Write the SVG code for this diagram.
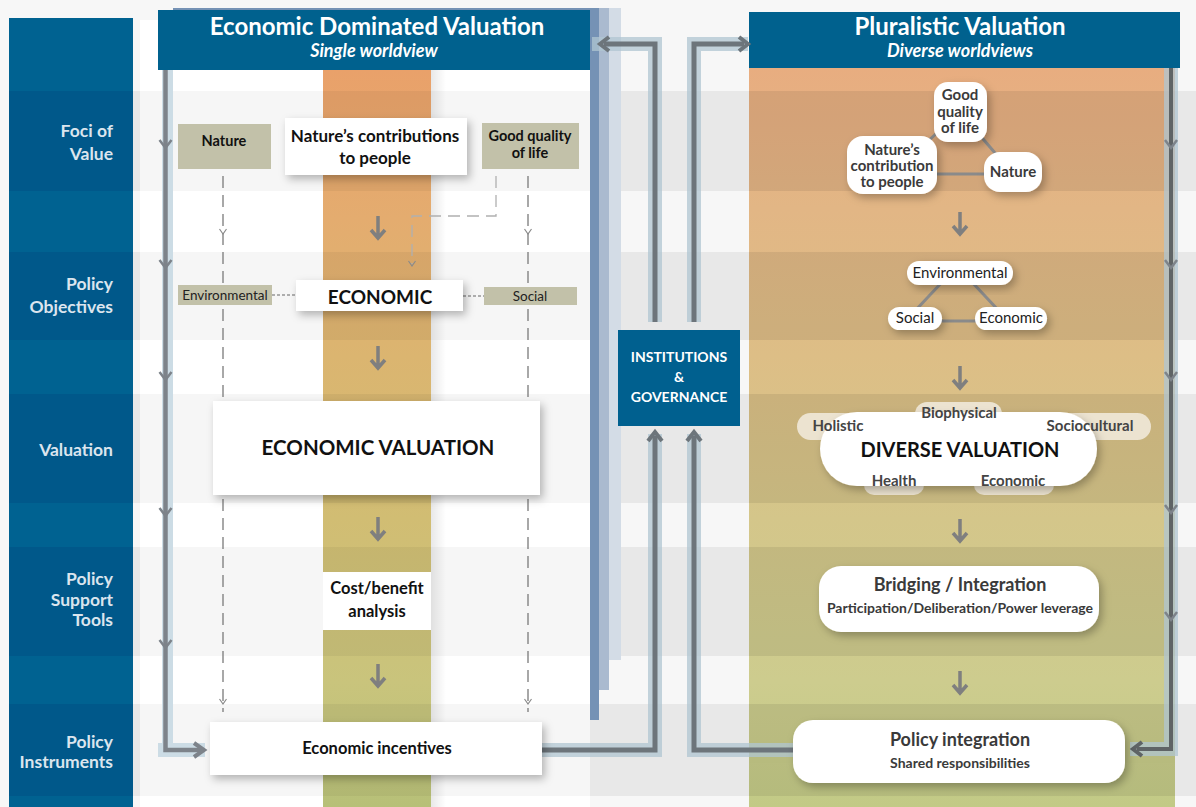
<svg xmlns="http://www.w3.org/2000/svg" xmlns:xlink="http://www.w3.org/1999/xlink" width="1196" height="807" viewBox="0 0 1196 807">
<defs>
<linearGradient id="gOrange" gradientUnits="userSpaceOnUse" x1="0" y1="70" x2="0" y2="807">
<stop offset="0" stop-color="#e9a16a"/>
<stop offset="0.2" stop-color="#e4ac6f"/>
<stop offset="0.39" stop-color="#dbb570"/>
<stop offset="0.61" stop-color="#d1bd73"/>
<stop offset="0.83" stop-color="#c9c47c"/>
<stop offset="1" stop-color="#b7c078"/>
</linearGradient>
<linearGradient id="gRight" gradientUnits="userSpaceOnUse" x1="0" y1="68" x2="0" y2="807">
<stop offset="0" stop-color="#e8ad80"/>
<stop offset="0.19" stop-color="#e2b685"/>
<stop offset="0.39" stop-color="#ddbe86"/>
<stop offset="0.61" stop-color="#d4c68a"/>
<stop offset="0.83" stop-color="#cdcc8e"/>
<stop offset="1" stop-color="#c2ca86"/>
</linearGradient>
<linearGradient id="gShade" x1="0" y1="0" x2="1" y2="0">
<stop offset="0" stop-color="#000" stop-opacity="0.09"/>
<stop offset="1" stop-color="#000" stop-opacity="0"/>
</linearGradient>
<filter id="sh" x="-20%" y="-30%" width="150%" height="170%">
<feDropShadow dx="3" dy="4" stdDeviation="4" flood-color="#000" flood-opacity="0.28"/>
</filter>
<path id="da" d="M0,-12 V10 M-7,2 L0,10 L7,2"/>
<path id="chev" d="M-6,-5 L0,3 L6,-5"/>
<path id="sarr" d="M-3.5,-5 L0,0 L3.5,-5"/>
</defs>
<style>
text{font-family:Lato,"Open Sans","Noto Sans",sans-serif;}
.lab{font-size:17.5px;font-weight:700;fill:#dbe5ee;text-anchor:end;}
.hd1{font-size:24px;font-weight:700;fill:#fff;text-anchor:middle;}
.hd2{font-size:18px;font-weight:700;font-style:italic;fill:#fff;text-anchor:middle;}
.b{font-weight:700;fill:#111;text-anchor:middle;}
.r{font-weight:400;fill:#222;text-anchor:middle;}
.dg{font-weight:700;fill:#3a3a3a;text-anchor:middle;}
.w{font-weight:700;fill:#fff;text-anchor:middle;}
.tan{fill:#c2c1a9;}
.wbox{fill:#fff;filter:url(#sh);}
.pill{fill:#fff;filter:url(#sh);}
.bpill{fill:#ece3d0;}
.da{fill:none;stroke:#7f7f7f;stroke-width:3.5;}
.dash{fill:none;stroke:#7a7a7a;stroke-width:1.3;stroke-dasharray:12 7;}
.dashl{fill:none;stroke:#b0b0b0;stroke-width:1.3;stroke-dasharray:12 7;}
.sarr{fill:none;stroke:#8a8a8a;stroke-width:1.2;}
.dot{fill:none;stroke:#666;stroke-width:1;stroke-dasharray:3 2;}
.halo{fill:none;stroke:#b0c6d2;stroke-width:14;opacity:0.75;}
.ln{fill:none;stroke:#6d757b;stroke-width:5;}
.ah{fill:none;stroke:#6d757b;stroke-width:4;}
.chev{fill:none;stroke:#7d838a;stroke-width:2.5;}
.tri{fill:none;stroke:#8a8a8a;stroke-width:3;}
</style>

<!-- background -->
<rect x="0" y="0" width="1196" height="807" fill="#f7f7f7"/>
<g fill="#e8e8e8">
<rect x="133" y="91" width="1063" height="100"/>
<rect x="133" y="252" width="1063" height="88"/>
<rect x="133" y="394" width="1063" height="109"/>
<rect x="133" y="547" width="1063" height="109"/>
<rect x="133" y="704" width="1063" height="92"/>
</g>

<!-- left label column -->
<g id="label-column">
<rect x="9" y="18" width="124" height="789" fill="#006291"/>
<g fill="#00588a">
<rect x="9" y="91" width="124" height="100"/>
<rect x="9" y="252" width="124" height="88"/>
<rect x="9" y="394" width="124" height="109"/>
<rect x="9" y="547" width="124" height="109"/>
<rect x="9" y="704" width="124" height="92"/>
</g>
<text class="lab" x="113" y="137">Foci of</text>
<text class="lab" x="113" y="160">Value</text>
<text class="lab" x="113" y="290">Policy</text>
<text class="lab" x="113" y="313">Objectives</text>
<text class="lab" x="113" y="456">Valuation</text>
<text class="lab" x="113" y="585">Policy</text>
<text class="lab" x="113" y="606">Support</text>
<text class="lab" x="113" y="626">Tools</text>
<text class="lab" x="113" y="748">Policy</text>
<text class="lab" x="113" y="768">Instruments</text>
</g>

<!-- stacked panels behind left panel -->
<g id="stack">
<rect x="173" y="8" width="448" height="652" fill="#d3dce6"/>
<rect x="173" y="8" width="436" height="682" fill="#aabacf"/>
<rect x="173" y="8" width="426" height="712" fill="#7592b5"/>
</g>

<!-- left panel -->
<g id="left-panel">
<rect x="140" y="20" width="450" height="787" fill="#ffffff"/>
<g fill="#f6f6f6">
<rect x="140" y="91" width="450" height="100"/>
<rect x="140" y="252" width="450" height="88"/>
<rect x="140" y="394" width="450" height="109"/>
<rect x="140" y="547" width="450" height="109"/>
<rect x="140" y="704" width="450" height="92"/>
</g>
<rect x="323" y="70" width="108" height="737" fill="url(#gOrange)"/>
<g fill="#000" opacity="0.045">
<rect x="323" y="91" width="108" height="100"/>
<rect x="323" y="252" width="108" height="88"/>
<rect x="323" y="394" width="108" height="109"/>
<rect x="323" y="547" width="108" height="109"/>
<rect x="323" y="704" width="108" height="92"/>
</g>
<rect x="431" y="70" width="15" height="737" fill="url(#gShade)"/>
</g>
<g id="left-header">
<rect x="158" y="10" width="432" height="60" fill="#00618e"/>
<text class="hd1" x="377" y="35">Economic Dominated Valuation</text>
<text class="hd2" x="374" y="57">Single worldview</text>
</g>

<!-- right panel -->
<g id="right-panel">
<rect x="749" y="68" width="426" height="739" fill="url(#gRight)"/>
<g fill="#000" opacity="0.07">
<rect x="749" y="91" width="426" height="100"/>
<rect x="749" y="252" width="426" height="88"/>
<rect x="749" y="394" width="426" height="109"/>
<rect x="749" y="547" width="426" height="109"/>
<rect x="749" y="704" width="426" height="92"/>
</g>
</g>
<g id="right-header">
<rect x="749" y="12" width="431" height="56" fill="#00618e"/>
<text class="hd1" x="960" y="35">Pluralistic Valuation</text>
<text class="hd2" x="960" y="57">Diverse worldviews</text>
</g>

<!-- connectors -->
<g id="connectors">
<!-- left feedback loop -->
<rect x="162" y="70" width="11" height="687" fill="#ccdce5"/>
<rect x="158" y="743" width="47" height="14" fill="#ccdce5"/>
<path d="M165.5,70 V750 H203" fill="none" stroke="#7d838a" stroke-width="4.5"/>
<path d="M194,743 L204,750 L194,757" fill="none" stroke="#7d838a" stroke-width="4"/>
<g class="chev">
<use xlink:href="#chev" x="165.5" y="145"/>
<use xlink:href="#chev" x="165.5" y="265"/>
<use xlink:href="#chev" x="165.5" y="377"/>
<use xlink:href="#chev" x="165.5" y="513"/>
<use xlink:href="#chev" x="165.5" y="645"/>
</g>
<!-- to/from institutions -->
<path class="halo" d="M542,750 H655 V434 M655,322 V44 H592"/>
<path class="halo" d="M793,750 H694 V434 M694,322 V44 H748"/>
<path class="ln" d="M542,750 H655 V436 M655,322 V44 H604"/>
<path class="ln" d="M793,750 H694 V436 M694,322 V44 H744"/>
<path class="ah" d="M648,441 L655,432 L662,441"/>
<path class="ah" d="M687,441 L694,432 L701,441"/>
<path class="ah" d="M609,37 L600,44 L609,51"/>
<path class="ah" d="M739,37 L748,44 L739,51"/>
<!-- right feedback loop -->
<path class="halo" d="M1171,68 V749 H1130"/>
<path d="M1171,68 V749 H1137" fill="none" stroke="#5f6466" stroke-width="4"/>
<path d="M1142,742 L1133,749 L1142,756" fill="none" stroke="#5f6466" stroke-width="4"/>
<g class="chev">
<use xlink:href="#chev" x="1171" y="145"/>
<use xlink:href="#chev" x="1171" y="265"/>
<use xlink:href="#chev" x="1171" y="377"/>
<use xlink:href="#chev" x="1171" y="510"/>
<use xlink:href="#chev" x="1171" y="617"/>
</g>
<!-- dashed links in economic panel -->
<path class="dash" d="M223,176 V712"/>
<path class="dash" d="M528,176 V712"/>
<path class="dashl" d="M496,176 V216 H412 V264"/>
<g class="sarr">
<use xlink:href="#sarr" x="223" y="234"/>
<use xlink:href="#sarr" x="223" y="704"/>
<use xlink:href="#sarr" x="528" y="234"/>
<use xlink:href="#sarr" x="528" y="704"/>
<use xlink:href="#sarr" x="412" y="266"/>
</g>
<path class="dot" d="M272,295 H296 M463,296 H484"/>
<!-- flow arrows -->
<g class="da">
<use xlink:href="#da" x="378" y="228"/>
<use xlink:href="#da" x="378" y="358"/>
<use xlink:href="#da" x="378" y="529"/>
<use xlink:href="#da" x="378" y="676"/>
<use xlink:href="#da" x="960" y="224"/>
<use xlink:href="#da" x="960" y="378"/>
<use xlink:href="#da" x="960" y="531"/>
<use xlink:href="#da" x="960" y="683"/>
</g>
<!-- triangles -->
<path class="tri" d="M960,112 L892,174 L1013,174 Z"/>
<path class="tri" d="M944,280 L914,312 M970,280 L1000,312 M930,321 H990"/>
</g>

<!-- economic panel nodes -->
<g id="eco-nature">
<rect class="tan" x="178" y="124" width="93" height="45"/>
<text class="b" x="224" y="146" font-size="14.5">Nature</text>
</g>
<g id="eco-ncp">
<rect class="wbox" x="285" y="118" width="182" height="57"/>
<text class="b" x="375" y="142" font-size="17">Nature’s contributions</text>
<text class="b" x="375" y="164" font-size="17">to people</text>
</g>
<g id="eco-gqol">
<rect class="tan" x="482" y="123" width="97" height="46"/>
<text class="b" x="530" y="141" font-size="14.5">Good quality</text>
<text class="b" x="530" y="158" font-size="14.5">of life</text>
</g>
<g id="eco-environmental">
<rect class="tan" x="178" y="285" width="94" height="20"/>
<text class="r" x="225" y="300" font-size="13.5">Environmental</text>
</g>
<g id="eco-economic">
<rect class="wbox" x="296" y="280" width="167" height="31"/>
<text class="b" x="380" y="304" font-size="19">ECONOMIC</text>
</g>
<g id="eco-social">
<rect class="tan" x="484" y="287" width="93" height="18"/>
<text class="r" x="530" y="301" font-size="13.5">Social</text>
</g>
<g id="eco-valuation">
<rect class="wbox" x="213" y="401" width="327" height="94"/>
<text class="b" x="378" y="455" font-size="20.5">ECONOMIC VALUATION</text>
</g>
<g id="eco-cba">
<rect x="323" y="572" width="108" height="58" fill="#fff"/>
<text class="b" x="377" y="594" font-size="16.5">Cost/benefit</text>
<text class="b" x="377" y="617" font-size="16.5">analysis</text>
</g>
<g id="eco-incentives">
<rect class="wbox" x="210" y="722" width="332" height="53"/>
<text class="b" x="377" y="754" font-size="16.5">Economic incentives</text>
</g>

<!-- institutions -->
<g id="institutions">
<rect x="618" y="330" width="122" height="96" fill="#00608f"/>
<text class="w" x="679" y="362" font-size="14">INSTITUTIONS</text>
<text class="w" x="679" y="382" font-size="14">&amp;</text>
<text class="w" x="679" y="402" font-size="14">GOVERNANCE</text>
</g>

<!-- pluralistic panel nodes -->
<g id="plu-gqol">
<rect class="pill" x="934" y="82" width="53" height="60" rx="14"/>
<text class="dg" x="960" y="100" font-size="15">Good</text>
<text class="dg" x="960" y="117" font-size="15">quality</text>
<text class="dg" x="960" y="133" font-size="15">of life</text>
</g>
<g id="plu-ncp">
<rect class="pill" x="847" y="136" width="90" height="58" rx="16"/>
<text class="dg" x="892" y="155" font-size="15">Nature’s</text>
<text class="dg" x="892" y="171" font-size="15">contribution</text>
<text class="dg" x="892" y="187" font-size="15">to people</text>
</g>
<g id="plu-nature">
<rect class="pill" x="984" y="152" width="58" height="40" rx="16"/>
<text class="dg" x="1013" y="177" font-size="15">Nature</text>
</g>
<g id="plu-environmental">
<rect class="pill" x="907" y="261" width="106" height="24" rx="12"/>
<text class="r" x="960" y="278" font-size="15">Environmental</text>
</g>
<g id="plu-social">
<rect class="pill" x="888" y="307" width="54" height="23" rx="11.5"/>
<text class="r" x="915" y="323" font-size="15">Social</text>
</g>
<g id="plu-economic">
<rect class="pill" x="975" y="307" width="72" height="23" rx="11.5"/>
<text class="r" x="1011" y="323" font-size="15">Economic</text>
</g>
<g id="plu-diverse">
<rect class="bpill" x="797" y="413" width="90" height="27" rx="13.5"/>
<rect class="bpill" x="1030" y="413" width="121" height="27" rx="13.5"/>
<rect class="bpill" x="915" y="402" width="87" height="24" rx="12"/>
<rect class="bpill" x="864" y="470" width="60" height="25" rx="10"/>
<rect class="bpill" x="974" y="470" width="80" height="25" rx="10"/>
<rect class="pill" x="820" y="412" width="277" height="74" rx="37"/>
<text class="dg" x="838" y="431" font-size="15" style="fill:#444">Holistic</text>
<text class="dg" x="959" y="418" font-size="15" style="fill:#444">Biophysical</text>
<text class="dg" x="1090" y="431" font-size="15" style="fill:#444">Sociocultural</text>
<text class="dg" x="894" y="486" font-size="15" style="fill:#444">Health</text>
<text class="dg" x="1013" y="486" font-size="15" style="fill:#444">Economic</text>
<text class="b" x="960" y="457" font-size="20">DIVERSE VALUATION</text>
</g>
<g id="plu-bridging">
<rect class="pill" x="819" y="566" width="280" height="66" rx="22"/>
<text class="dg" x="960" y="591" font-size="18">Bridging / Integration</text>
<text class="dg" x="960" y="613" font-size="14">Participation/Deliberation/Power leverage</text>
</g>
<g id="plu-policy">
<rect class="pill" x="793" y="720" width="332" height="63" rx="20"/>
<text class="dg" x="960" y="746" font-size="18">Policy integration</text>
<text class="dg" x="960" y="768" font-size="14">Shared responsibilities</text>
</g>
</svg>
